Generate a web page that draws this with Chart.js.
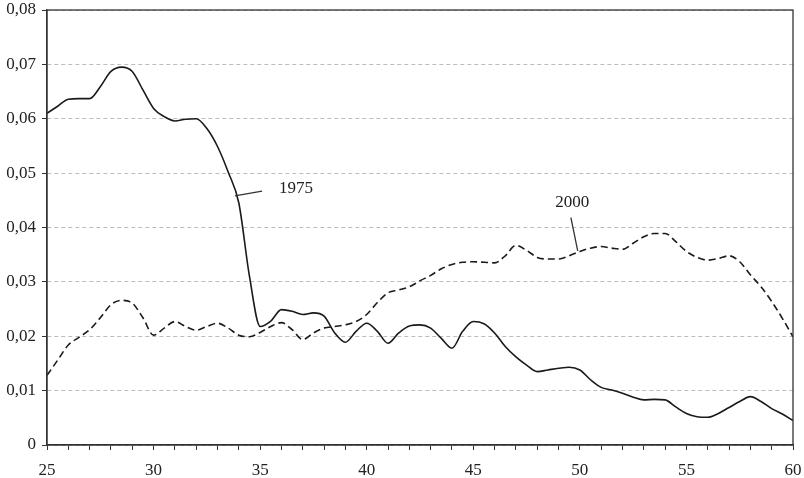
<!DOCTYPE html>
<html>
<head>
<meta charset="utf-8">
<script src="https://cdn.jsdelivr.net/npm/chart.js@4.4.1/dist/chart.umd.min.js"></script>
<style>
  body { margin: 0; background: #fff; }
  #wrap { width: 804px; height: 478px; position: relative; }
</style>
</head>
<body>
<div id="wrap"><canvas id="chartUsia"></canvas></div>
<script>
// Data
const ages = [25, 25.5, 26, 26.5, 27, 27.5, 28, 28.5, 29, 29.5, 30, 30.5, 31, 31.5, 32, 32.5, 33, 33.5, 34, 34.5,
  35, 35.5, 36, 36.5, 37, 37.5, 38, 38.5, 39, 39.5, 40, 40.5, 41, 41.5, 42, 42.5, 43, 43.5, 44, 44.5,
  45, 45.5, 46, 46.5, 47, 47.5, 48, 48.5, 49, 49.5, 50, 50.5, 51, 51.5, 52, 52.5, 53, 53.5, 54, 54.5,
  55, 55.5, 56, 56.5, 57, 57.5, 58, 58.5, 59, 59.5, 60];

const rate1975 = [0.0610, 0.0623, 0.0636, 0.0637, 0.0637, 0.0659, 0.0687, 0.0695, 0.0687, 0.0653,
  0.0619, 0.0604, 0.0596, 0.0599, 0.0600, 0.0582, 0.0549, 0.0502, 0.0445, 0.0310,
  0.0218, 0.0228, 0.0249, 0.0246, 0.0240, 0.0243, 0.0237, 0.0206, 0.0189, 0.0209,
  0.0224, 0.0209, 0.0187, 0.0206, 0.0219, 0.0221, 0.0215, 0.0196, 0.0178, 0.0209,
  0.0227, 0.0223, 0.0206, 0.0181, 0.0162, 0.0147, 0.0135, 0.0138, 0.0141, 0.0143,
  0.0138, 0.0120, 0.0106, 0.0101, 0.0095, 0.0088, 0.0083, 0.0084, 0.0083, 0.0070,
  0.0058, 0.0052, 0.0051, 0.0058, 0.0069, 0.0080, 0.0089, 0.0080, 0.0067, 0.0057, 0.0045];

const rate2000 = [0.0128, 0.0156, 0.0184, 0.0198, 0.0212, 0.0234, 0.0258, 0.0266, 0.0261, 0.0234,
  0.0202, 0.0215, 0.0227, 0.0218, 0.0211, 0.0218, 0.0224, 0.0215, 0.0202, 0.0199,
  0.0207, 0.0218, 0.0225, 0.0212, 0.0194, 0.0206, 0.0215, 0.0218, 0.0221, 0.0227,
  0.0240, 0.0262, 0.0280, 0.0285, 0.0291, 0.0302, 0.0312, 0.0324, 0.0332, 0.0336,
  0.0337, 0.0336, 0.0335, 0.0348, 0.0367, 0.0358, 0.0345, 0.0342, 0.0342, 0.0348,
  0.0356, 0.0362, 0.0365, 0.0362, 0.0360, 0.0371, 0.0383, 0.0389, 0.0389, 0.0374,
  0.0356, 0.0345, 0.0340, 0.0343, 0.0348, 0.0337, 0.0313, 0.0291, 0.0264, 0.0233, 0.0199];

// label text, label position, leader line (data coords)
const seriesLabels = [
  { text: '1975', at: [36.68, 0.0472], from: [35.09, 0.0467], to: [33.82, 0.0458] },
  { text: '2000', at: [49.64, 0.0446], from: [49.58, 0.0418], to: [49.9, 0.0357] }
];

const fontSerif = "'Liberation Serif', 'Times New Roman', serif";

const toPoints = vals => vals.map((v, i) => ({ x: ages[i], y: v }));

// kotak bingkai + label seri
const framePlugin = {
  id: 'frame',
  afterDatasetsDraw(chart) {
    const { ctx, chartArea: a, scales: { x, y } } = chart;
    ctx.save();
    ctx.strokeStyle = '#333';
    ctx.lineWidth = 1.3;
    ctx.strokeRect(a.left, a.top, a.right - a.left, a.bottom - a.top);

    ctx.fillStyle = '#222';
    ctx.font = '17px ' + fontSerif;
    ctx.textAlign = 'center';
    ctx.textBaseline = 'middle';
    seriesLabels.forEach(l => {
      ctx.fillText(l.text, x.getPixelForValue(l.at[0]), y.getPixelForValue(l.at[1]));
      ctx.beginPath();
      ctx.lineWidth = 1.3;
      ctx.moveTo(x.getPixelForValue(l.from[0]), y.getPixelForValue(l.from[1]));
      ctx.lineTo(x.getPixelForValue(l.to[0]), y.getPixelForValue(l.to[1]));
      ctx.stroke();
    });
    ctx.restore();
  }
};

new Chart(document.getElementById('chartUsia'), {
  type: 'line',
  data: {
    datasets: [{
      label: '1975',
      data: toPoints(rate1975),
      borderColor: '#1a1a1a',
      borderWidth: 1.6,
      pointRadius: 0,
      cubicInterpolationMode: 'monotone'
    }, {
      label: '2000',
      data: toPoints(rate2000),
      borderColor: '#1a1a1a',
      borderWidth: 1.6,
      borderDash: [7, 4],
      pointRadius: 0,
      cubicInterpolationMode: 'monotone'
    }]
  },
  options: {
    responsive: true,
    maintainAspectRatio: false,
    animation: false,
    layout: { padding: { top: 10, right: 11, left: 0, bottom: 0 } },
    plugins: {
      legend: { display: false },
      tooltip: { enabled: false }
    },
    scales: {
      x: {
        type: 'linear',
        min: 25,
        max: 60,
        afterFit: s => { s.height = 33; s.paddingLeft = 0; s.paddingRight = 0; },
        grid: { drawOnChartArea: false, tickLength: 5, color: '#333', tickBorderDash: [] },
        border: { color: '#333', width: 1.3 },
        ticks: {
          stepSize: 1,
          autoSkip: false,
          maxRotation: 0,
          padding: 10,
          color: '#222',
          font: { family: fontSerif, size: 17 },
          callback: v => (v % 5 === 0 ? String(v) : '')
        }
      },
      y: {
        min: 0,
        max: 0.08,
        afterFit: s => { s.width = 47; s.paddingTop = 0; s.paddingBottom = 0; },
        grid: { color: '#bdbdbd', lineWidth: 1, tickLength: 5, tickColor: '#333', tickBorderDash: [] },
        border: { color: '#333', width: 1.3, dash: [4, 3] },
        ticks: {
          stepSize: 0.01,
          padding: 6,
          color: '#222',
          font: { family: fontSerif, size: 17 },
          callback: v => (v === 0 ? '0' : v.toFixed(2).replace('.', ','))
        }
      }
    }
  },
  plugins: [framePlugin]
});
</script>
</body>
</html>
